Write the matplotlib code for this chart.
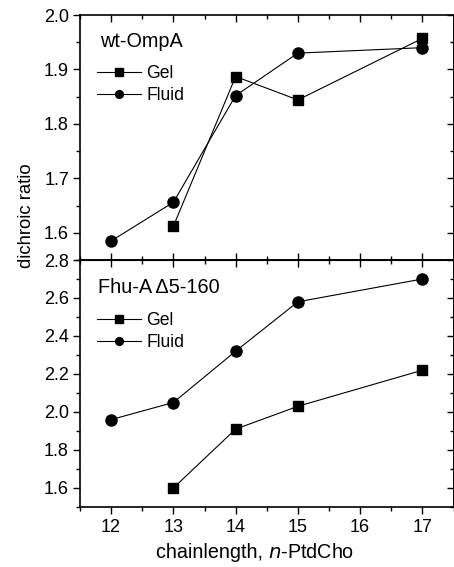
import matplotlib
matplotlib.use("Agg")
import matplotlib.pyplot as plt
from matplotlib.ticker import MultipleLocator

plt.rcParams['font.family'] = ['Liberation Sans', 'DejaVu Sans']

# wt-OmpA
omp_gel_x = [13, 14, 15, 17]
omp_gel_y = [1.612, 1.887, 1.844, 1.957]
omp_fluid_x = [12, 13, 14, 15, 17]
omp_fluid_y = [1.585, 1.656, 1.852, 1.930, 1.940]

# Fhu-A d5-160
fhu_gel_x = [13, 14, 15, 17]
fhu_gel_y = [1.60, 1.91, 2.03, 2.22]
fhu_fluid_x = [12, 13, 14, 15, 17]
fhu_fluid_y = [1.96, 2.05, 2.32, 2.58, 2.70]

xticks = [12, 13, 14, 15, 16, 17]
top_yticks = [1.6, 1.7, 1.8, 1.9, 2.0]
bot_yticks = [1.6, 1.8, 2.0, 2.2, 2.4, 2.6, 2.8]

W, H = 454, 567
fig = plt.figure(figsize=(W/100, H/100), dpi=100)
L = 80/W
R = 453.5/W
ax1 = fig.add_axes([L, 1-260/H, R-L, (260-15)/H])
ax2 = fig.add_axes([L, 1-507/H, R-L, (507-260)/H])

fs = 13
for ax in (ax1, ax2):
    ax.set_xlim(11.5, 17.5)
    ax.xaxis.set_major_locator(MultipleLocator(1))
    ax.xaxis.set_minor_locator(MultipleLocator(0.5))
    for s in ax.spines.values():
        s.set_linewidth(1.2)
    ax.tick_params(which='both', labelsize=fs, width=1.0)
    ax.tick_params(which='major', length=5)
    ax.tick_params(which='minor', length=3)
    ax.tick_params(axis='y', which='both', direction='out', left=True, right=False, pad=3)

# top panel
ax1.set_ylim(1.55, 2.0)
ax1.yaxis.set_minor_locator(MultipleLocator(0.05))
ax1.plot(omp_gel_x, omp_gel_y, '-', color='black', lw=0.8, marker='s', ms=7.5, label='Gel')
ax1.plot(omp_fluid_x, omp_fluid_y, '-', color='black', lw=0.8, marker='o', ms=8, label='Fluid')
ax1.set_yticks(top_yticks)
ax1.set_yticklabels([f'{v:.1f}' for v in top_yticks])
ax1.tick_params(axis='x', which='both', direction='in', top=True, bottom=True, labelbottom=False)

# bottom panel
ax2.set_ylim(1.5, 2.8)
ax2.yaxis.set_minor_locator(MultipleLocator(0.1))
ax2.plot(fhu_gel_x, fhu_gel_y, '-', color='black', lw=0.8, marker='s', ms=7.5, label='Gel')
ax2.plot(fhu_fluid_x, fhu_fluid_y, '-', color='black', lw=0.8, marker='o', ms=8, label='Fluid')
ax2.set_yticks(bot_yticks)
ax2.set_yticklabels([f'{v:.1f}' for v in bot_yticks])
ax2.tick_params(axis='x', which='both', direction='out', bottom=True, top=False, pad=4)
ax2.set_xticks(xticks)
ax2.set_xticklabels([str(v) for v in xticks])

for ax in (ax1, ax2):
    sr = ax.secondary_yaxis('right')
    sr.set_yticks(ax.get_yticks())
    sr.yaxis.set_minor_locator(ax.yaxis.get_minor_locator())
    sr.tick_params(which='both', direction='in', labelright=False, width=1.0)
    sr.tick_params(which='major', length=5)
    sr.tick_params(which='minor', length=3)
    sr.spines['right'].set_linewidth(1.2)
st = ax2.secondary_xaxis('top')
st.set_xticks(xticks)
st.xaxis.set_minor_locator(MultipleLocator(0.5))
st.tick_params(which='both', direction='in', labeltop=False, width=1.0)
st.tick_params(which='major', length=5)
st.tick_params(which='minor', length=3)

ax1.text(0.053, 0.89, 'wt-OmpA', transform=ax1.transAxes, fontsize=14.3, va='center', ha='left')
ax2.text(0.047, 0.89, 'Fhu-A \u03945-160', transform=ax2.transAxes, fontsize=14.3, va='center', ha='left')

for ax, y in ((ax1, 0.795), (ax2, 0.79)):
    ax.legend(loc='upper left', bbox_to_anchor=(0.045, y), frameon=False, fontsize=12.7,
              handlelength=2.5, handletextpad=0.3, labelspacing=0.28, borderpad=0,
              borderaxespad=0, markerscale=0.7)

fig.text(27/W, 1-216/H, 'dichroic ratio', rotation=90, fontsize=13.3, ha='center', va='center')
fig.text(268/W, 1-553/H, 'chainlength, ', fontsize=14.2, ha='right', va='center')
fig.text(268/W, 1-553/H, '$\\it{n}$-PtdCho', fontsize=14.2, ha='left', va='center')

fig.savefig('out.png', dpi=100)
